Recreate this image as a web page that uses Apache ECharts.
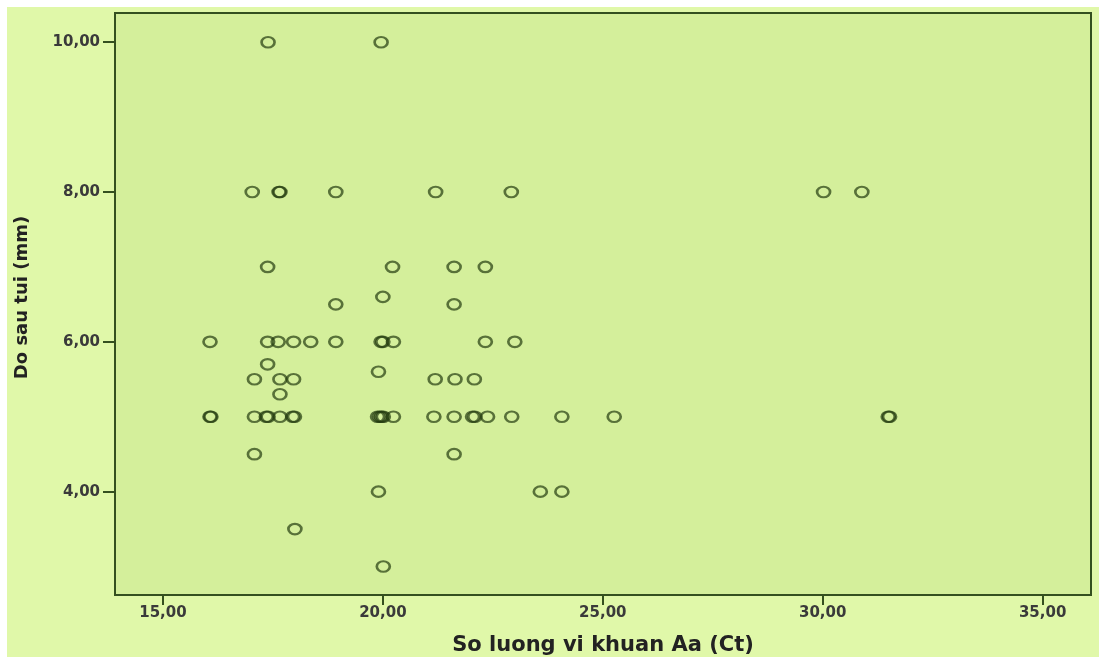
<!DOCTYPE html>
<html>
<head>
<meta charset="utf-8">
<script src="https://cdn.jsdelivr.net/npm/echarts@6/dist/echarts.min.js"></script>
<style>
html,body{margin:0;padding:0;background:#ffffff;width:1099px;height:657px;overflow:hidden;}
#c{position:absolute;left:7px;top:7px;width:1092px;height:650px;}
</style>
</head>
<body>
<div id="c"></div>
<script>
// Data: [x = So luong vi khuan Aa (Ct), y = Do sau tui (mm)]
var pts10 = [[17.39, 10], [19.96, 10]];
var pts8 = [[17.03, 8], [17.64, 8], [17.66, 8], [18.93, 8], [21.2, 8], [22.92, 8], [30.02, 8], [30.89, 8]];
var pts7 = [[17.38, 7], [20.22, 7], [21.62, 7], [22.33, 7]];
var ptsMid = [[20.0, 6.6], [18.93, 6.5], [21.62, 6.5], [17.38, 5.7], [19.9, 5.6], [17.66, 5.3]];
var pts6 = [[16.07, 6], [17.38, 6], [17.62, 6], [17.97, 6], [18.36, 6], [18.93, 6], [19.96, 6], [20.0, 6], [20.24, 6], [22.33, 6], [23.0, 6]];
var pts55 = [[17.08, 5.5], [17.66, 5.5], [17.97, 5.5], [21.19, 5.5], [21.64, 5.5], [22.08, 5.5]];
var pts5 = [[16.07, 5], [16.09, 5], [17.08, 5], [17.35, 5], [17.39, 5], [17.66, 5], [17.95, 5], [17.99, 5],
            [19.88, 5], [19.93, 5], [19.97, 5], [20.01, 5], [20.24, 5], [21.16, 5], [21.62, 5], [22.04, 5],
            [22.09, 5], [22.38, 5], [22.93, 5], [24.07, 5], [25.26, 5], [31.49, 5], [31.52, 5]];
var ptsLow = [[17.08, 4.5], [21.62, 4.5], [19.9, 4], [23.58, 4], [24.07, 4], [18.0, 3.5], [20.01, 3]];

var xTicks = [15, 20, 25, 30, 35];
var yTicks = [4, 6, 8, 10];
var xTitle = 'So luong vi khuan Aa (Ct)';
var yTitle = 'Do sau tui (mm)';

var allPts = [].concat(pts10, pts8, pts7, ptsMid, pts6, pts55, pts5, ptsLow);

function fmt(v) { return v.toFixed(2).replace('.', ','); }

var chart = echarts.init(document.getElementById('c'));
chart.setOption({
  backgroundColor: '#e0f8a9',
  animation: false,
  grid: {
    left: 108, top: 6, right: 8, bottom: 62,
    containLabel: false,
    outerBoundsMode: 'none',
    show: true,
    backgroundColor: '#d4ef9b',
    borderColor: '#34501f',
    borderWidth: 2
  },
  xAxis: {
    type: 'value',
    min: 13.91, max: 36.1,
    name: xTitle,
    nameLocation: 'middle',
    nameGap: 40,
    nameTextStyle: { fontFamily: 'DejaVu Sans', fontWeight: 'bold', fontSize: 21, color: '#222' },
    axisLine: { show: true, lineStyle: { color: '#34501f', width: 2 } },
    axisTick: { show: true, inside: false, length: 10, customValues: xTicks, lineStyle: { color: '#34501f', width: 2 } },
    axisLabel: { customValues: xTicks, formatter: fmt, fontFamily: 'DejaVu Sans', fontWeight: 'bold', fontSize: 15, color: '#3a3a3a', margin: 11 },
    splitLine: { show: false }
  },
  yAxis: {
    type: 'value',
    min: 2.62, max: 10.39,
    name: yTitle,
    nameLocation: 'middle',
    nameGap: 84,
    nameTextStyle: { fontFamily: 'DejaVu Sans', fontWeight: 'bold', fontSize: 18, color: '#222', padding: [0, 0, 0, 13] },
    axisLine: { show: true, lineStyle: { color: '#34501f', width: 2 } },
    axisTick: { show: true, inside: false, length: 12, customValues: yTicks, lineStyle: { color: '#34501f', width: 2 } },
    axisLabel: { customValues: yTicks, formatter: fmt, fontFamily: 'DejaVu Sans', fontWeight: 'bold', fontSize: 15, color: '#3a3a3a', margin: 15 },
    splitLine: { show: false }
  },
  series: [{
    type: 'scatter',
    data: allPts,
    symbol: 'circle',
    symbolSize: [13, 10.5],
    itemStyle: { color: 'rgba(0,0,0,0)', borderColor: 'rgba(36,60,16,0.88)', borderWidth: 2.4 }
  }]
});
</script>
</body>
</html>
